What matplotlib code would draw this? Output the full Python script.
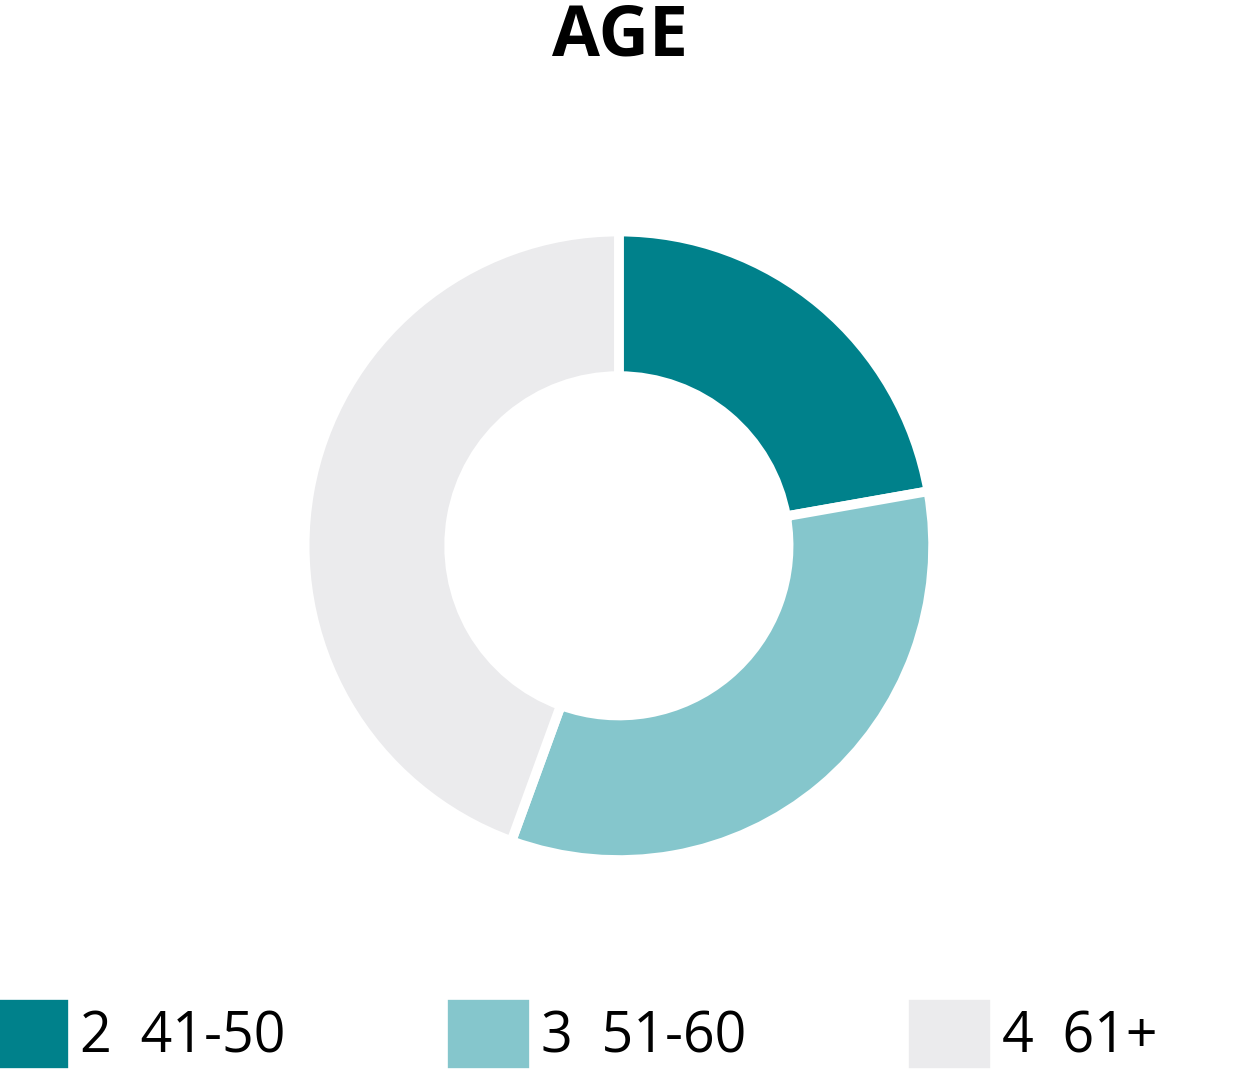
import matplotlib.pyplot as plt
from matplotlib.patches import Patch

labels = ["2  41-50", "3  51-60", "4  61+"]
values = [2, 3, 4]
colors = ["#00818b", "#85c6cc", "#ebebed"]

plt.rcParams['font.family'] = ['Open Sans', 'DejaVu Sans']
fig = plt.figure(figsize=(12.49, 10.84), dpi=100)
ax = fig.add_axes([0.181, 0.134, 0.629, 0.725])
ax.pie(values, colors=colors, startangle=90, counterclock=False,
       wedgeprops=dict(width=0.46, edgecolor='white', linewidth=7))
ax.set_aspect('equal')
fig.text(0.496, 0.965, "AGE", ha='center', va='center', fontsize=50, fontweight='bold')
handles = [Patch(facecolor=c, edgecolor=c, joinstyle='round', linewidth=6) for c in colors]
fig.legend(handles, labels, loc='center', bbox_to_anchor=(0.46, 0.045), ncol=3,
           frameon=False, fontsize=40, handlelength=1.3, handleheight=1.3,
           columnspacing=3.0, handletextpad=0.3)
fig.savefig("out.png", dpi=100)
